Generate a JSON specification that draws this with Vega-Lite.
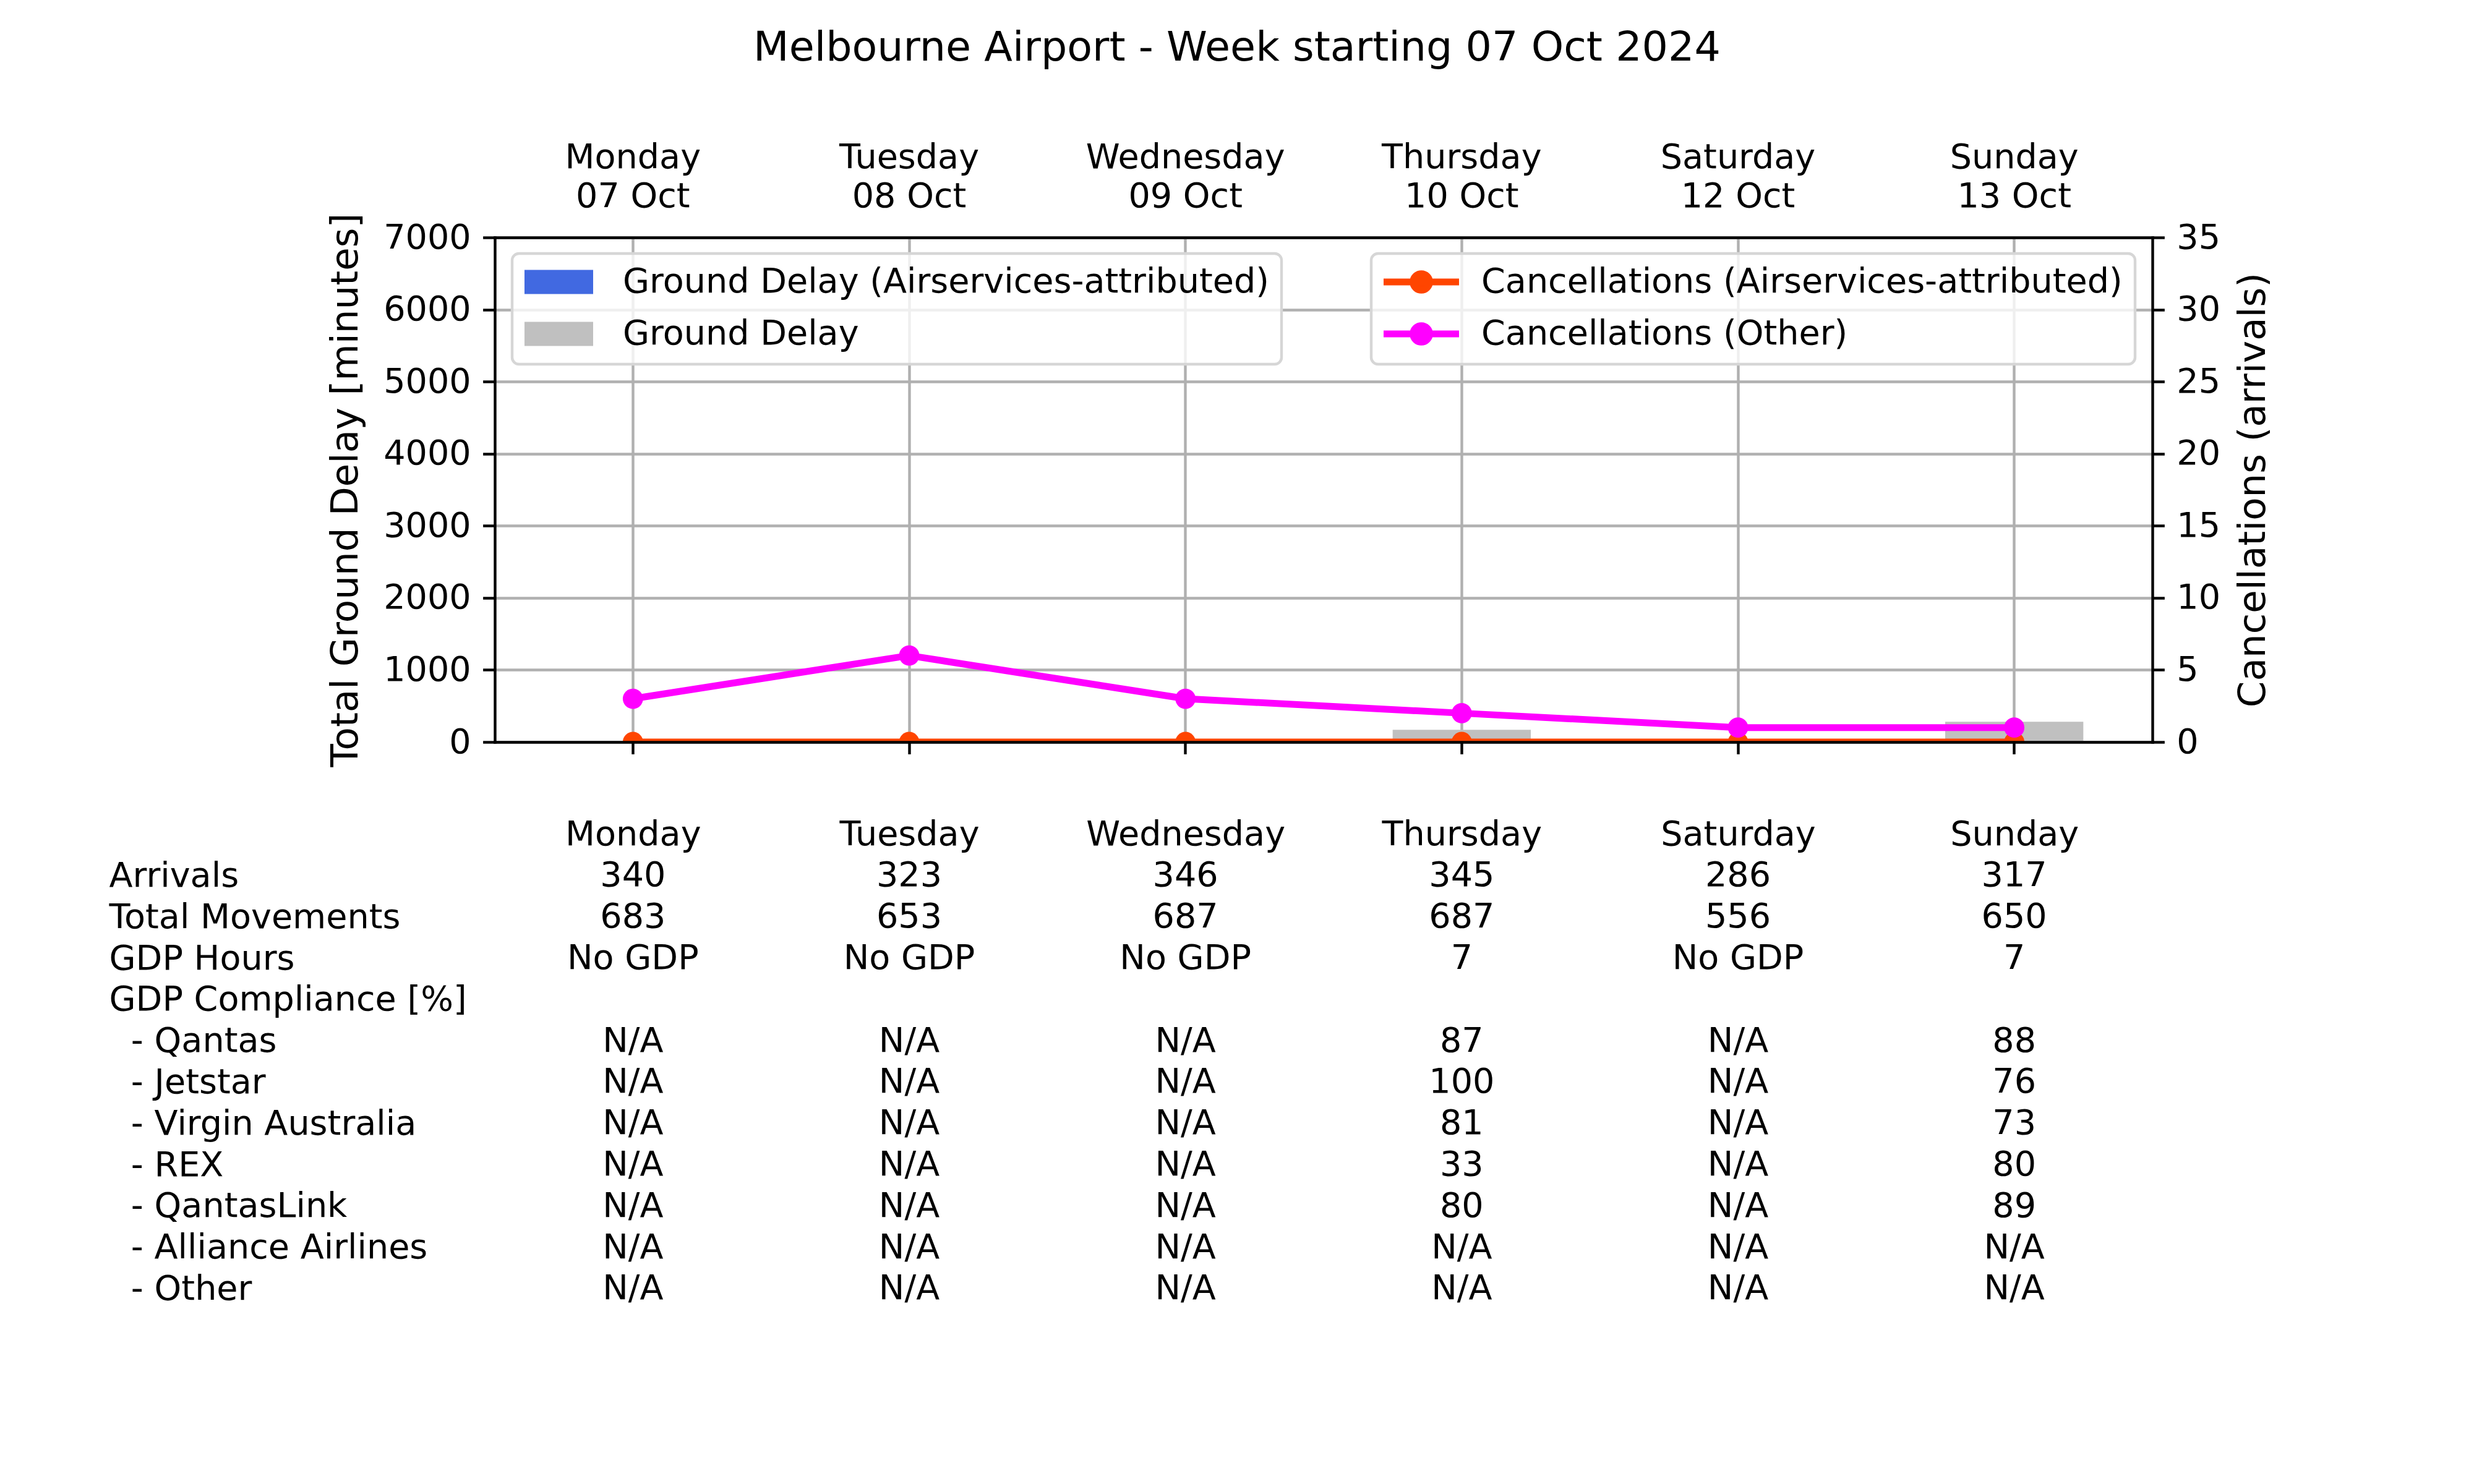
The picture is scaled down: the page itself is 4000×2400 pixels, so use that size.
{
  "$schema": "https://vega.github.io/schema/vega-lite/v6.json",
  "padding": {"left": 176, "top": 45, "right": 20, "bottom": 20},
  "background": "white",
  "title": {"text": "Melbourne Airport - Week starting 07 Oct 2024", "fontSize": 66.7, "fontWeight": "normal", "font": "DejaVu Sans", "color": "black", "anchor": "middle", "frame": "group", "dx": -140, "offset": 48, "baseline": "bottom"},
  "bounds": "flush",
  "spacing": 183,
  "resolve": {"scale": {"x": "independent", "y": "independent"}},
  "datasets": {
    "delay": [
      {"day": "Monday|07 Oct", "type": "Ground Delay", "minutes": 0},
      {"day": "Tuesday|08 Oct", "type": "Ground Delay", "minutes": 0},
      {"day": "Wednesday|09 Oct", "type": "Ground Delay", "minutes": 0},
      {"day": "Thursday|10 Oct", "type": "Ground Delay", "minutes": 170},
      {"day": "Saturday|12 Oct", "type": "Ground Delay", "minutes": 0},
      {"day": "Sunday|13 Oct", "type": "Ground Delay", "minutes": 280},
      {"day": "Monday|07 Oct", "type": "Ground Delay (Airservices-attributed)", "minutes": 0},
      {"day": "Tuesday|08 Oct", "type": "Ground Delay (Airservices-attributed)", "minutes": 0},
      {"day": "Wednesday|09 Oct", "type": "Ground Delay (Airservices-attributed)", "minutes": 0},
      {"day": "Thursday|10 Oct", "type": "Ground Delay (Airservices-attributed)", "minutes": 0},
      {"day": "Saturday|12 Oct", "type": "Ground Delay (Airservices-attributed)", "minutes": 0},
      {"day": "Sunday|13 Oct", "type": "Ground Delay (Airservices-attributed)", "minutes": 0}
    ],
    "cancel": [
      {"day": "Monday|07 Oct", "series": "Cancellations (Airservices-attributed)", "count": 0},
      {"day": "Tuesday|08 Oct", "series": "Cancellations (Airservices-attributed)", "count": 0},
      {"day": "Wednesday|09 Oct", "series": "Cancellations (Airservices-attributed)", "count": 0},
      {"day": "Thursday|10 Oct", "series": "Cancellations (Airservices-attributed)", "count": 0},
      {"day": "Saturday|12 Oct", "series": "Cancellations (Airservices-attributed)", "count": 0},
      {"day": "Sunday|13 Oct", "series": "Cancellations (Airservices-attributed)", "count": 0},
      {"day": "Monday|07 Oct", "series": "Cancellations (Other)", "count": 3},
      {"day": "Tuesday|08 Oct", "series": "Cancellations (Other)", "count": 6},
      {"day": "Wednesday|09 Oct", "series": "Cancellations (Other)", "count": 3},
      {"day": "Thursday|10 Oct", "series": "Cancellations (Other)", "count": 2},
      {"day": "Saturday|12 Oct", "series": "Cancellations (Other)", "count": 1},
      {"day": "Sunday|13 Oct", "series": "Cancellations (Other)", "count": 1}
    ],
    "table": [
      {"row": "Arrivals", "col": "Monday", "v": "340"},
      {"row": "Arrivals", "col": "Tuesday", "v": "323"},
      {"row": "Arrivals", "col": "Wednesday", "v": "346"},
      {"row": "Arrivals", "col": "Thursday", "v": "345"},
      {"row": "Arrivals", "col": "Saturday", "v": "286"},
      {"row": "Arrivals", "col": "Sunday", "v": "317"},
      {"row": "Total Movements", "col": "Monday", "v": "683"},
      {"row": "Total Movements", "col": "Tuesday", "v": "653"},
      {"row": "Total Movements", "col": "Wednesday", "v": "687"},
      {"row": "Total Movements", "col": "Thursday", "v": "687"},
      {"row": "Total Movements", "col": "Saturday", "v": "556"},
      {"row": "Total Movements", "col": "Sunday", "v": "650"},
      {"row": "GDP Hours", "col": "Monday", "v": "No GDP"},
      {"row": "GDP Hours", "col": "Tuesday", "v": "No GDP"},
      {"row": "GDP Hours", "col": "Wednesday", "v": "No GDP"},
      {"row": "GDP Hours", "col": "Thursday", "v": "7"},
      {"row": "GDP Hours", "col": "Saturday", "v": "No GDP"},
      {"row": "GDP Hours", "col": "Sunday", "v": "7"},
      {"row": "\u200b\u00a0\u00a0- Qantas", "col": "Monday", "v": "N/A"},
      {"row": "\u200b\u00a0\u00a0- Qantas", "col": "Tuesday", "v": "N/A"},
      {"row": "\u200b\u00a0\u00a0- Qantas", "col": "Wednesday", "v": "N/A"},
      {"row": "\u200b\u00a0\u00a0- Qantas", "col": "Thursday", "v": "87"},
      {"row": "\u200b\u00a0\u00a0- Qantas", "col": "Saturday", "v": "N/A"},
      {"row": "\u200b\u00a0\u00a0- Qantas", "col": "Sunday", "v": "88"},
      {"row": "\u200b\u00a0\u00a0- Jetstar", "col": "Monday", "v": "N/A"},
      {"row": "\u200b\u00a0\u00a0- Jetstar", "col": "Tuesday", "v": "N/A"},
      {"row": "\u200b\u00a0\u00a0- Jetstar", "col": "Wednesday", "v": "N/A"},
      {"row": "\u200b\u00a0\u00a0- Jetstar", "col": "Thursday", "v": "100"},
      {"row": "\u200b\u00a0\u00a0- Jetstar", "col": "Saturday", "v": "N/A"},
      {"row": "\u200b\u00a0\u00a0- Jetstar", "col": "Sunday", "v": "76"},
      {"row": "\u200b\u00a0\u00a0- Virgin Australia", "col": "Monday", "v": "N/A"},
      {"row": "\u200b\u00a0\u00a0- Virgin Australia", "col": "Tuesday", "v": "N/A"},
      {"row": "\u200b\u00a0\u00a0- Virgin Australia", "col": "Wednesday", "v": "N/A"},
      {"row": "\u200b\u00a0\u00a0- Virgin Australia", "col": "Thursday", "v": "81"},
      {"row": "\u200b\u00a0\u00a0- Virgin Australia", "col": "Saturday", "v": "N/A"},
      {"row": "\u200b\u00a0\u00a0- Virgin Australia", "col": "Sunday", "v": "73"},
      {"row": "\u200b\u00a0\u00a0- REX", "col": "Monday", "v": "N/A"},
      {"row": "\u200b\u00a0\u00a0- REX", "col": "Tuesday", "v": "N/A"},
      {"row": "\u200b\u00a0\u00a0- REX", "col": "Wednesday", "v": "N/A"},
      {"row": "\u200b\u00a0\u00a0- REX", "col": "Thursday", "v": "33"},
      {"row": "\u200b\u00a0\u00a0- REX", "col": "Saturday", "v": "N/A"},
      {"row": "\u200b\u00a0\u00a0- REX", "col": "Sunday", "v": "80"},
      {"row": "\u200b\u00a0\u00a0- QantasLink", "col": "Monday", "v": "N/A"},
      {"row": "\u200b\u00a0\u00a0- QantasLink", "col": "Tuesday", "v": "N/A"},
      {"row": "\u200b\u00a0\u00a0- QantasLink", "col": "Wednesday", "v": "N/A"},
      {"row": "\u200b\u00a0\u00a0- QantasLink", "col": "Thursday", "v": "80"},
      {"row": "\u200b\u00a0\u00a0- QantasLink", "col": "Saturday", "v": "N/A"},
      {"row": "\u200b\u00a0\u00a0- QantasLink", "col": "Sunday", "v": "89"},
      {"row": "\u200b\u00a0\u00a0- Alliance Airlines", "col": "Monday", "v": "N/A"},
      {"row": "\u200b\u00a0\u00a0- Alliance Airlines", "col": "Tuesday", "v": "N/A"},
      {"row": "\u200b\u00a0\u00a0- Alliance Airlines", "col": "Wednesday", "v": "N/A"},
      {"row": "\u200b\u00a0\u00a0- Alliance Airlines", "col": "Thursday", "v": "N/A"},
      {"row": "\u200b\u00a0\u00a0- Alliance Airlines", "col": "Saturday", "v": "N/A"},
      {"row": "\u200b\u00a0\u00a0- Alliance Airlines", "col": "Sunday", "v": "N/A"},
      {"row": "\u200b\u00a0\u00a0- Other", "col": "Monday", "v": "N/A"},
      {"row": "\u200b\u00a0\u00a0- Other", "col": "Tuesday", "v": "N/A"},
      {"row": "\u200b\u00a0\u00a0- Other", "col": "Wednesday", "v": "N/A"},
      {"row": "\u200b\u00a0\u00a0- Other", "col": "Thursday", "v": "N/A"},
      {"row": "\u200b\u00a0\u00a0- Other", "col": "Saturday", "v": "N/A"},
      {"row": "\u200b\u00a0\u00a0- Other", "col": "Sunday", "v": "N/A"}
    ]
  },
  "vconcat": [
    {
      "width": 2680,
      "height": 816,
      "layer": [
        {
          "data": {"name": "delay"},
          "mark": {"type": "bar", "width": {"band": 0.5}},
          "encoding": {
            "x": {"field": "day", "type": "nominal", "sort": null,
              "scale": {"domain": ["Monday|07 Oct", "Tuesday|08 Oct", "Wednesday|09 Oct", "Thursday|10 Oct", "Saturday|12 Oct", "Sunday|13 Oct"], "paddingInner": 0, "paddingOuter": 0},
              "axis": {"orient": "top", "title": null, "labelExpr": "split(datum.label, '|')", "labelAngle": 0, "ticks": false, "tickSize": 0, "labelPadding": 101, "labelBaseline": "bottom", "labelLineHeight": 63, "labelLimit": 3000, "grid": true, "bandPosition": 0.5, "zindex": 0}},
            "y": {"field": "minutes", "type": "quantitative", "stack": null,
              "scale": {"domain": [0, 7000], "nice": false},
              "axis": {"orient": "left", "title": "Total Ground Delay [minutes]", "format": "d", "values": [0, 1000, 2000, 3000, 4000, 5000, 6000, 7000], "grid": true, "titlePadding": 29, "zindex": 0}},
            "fill": {"field": "type", "type": "nominal",
              "scale": {"domain": ["Ground Delay (Airservices-attributed)", "Ground Delay"], "range": ["#4169E1", "#C0C0C0"]},
              "legend": {"orient": "none", "legendX": 28, "legendY": 26, "title": null, "direction": "vertical",
                "symbolType": "M-1,-0.35H1V0.35H-1Z", "symbolSize": 12321, "symbolStrokeWidth": 0, "symbolOpacity": 1,
                "clipHeight": 52, "rowPadding": 28, "padding": 20, "labelOffset": 48, "labelLimit": 3000,
                "strokeColor": "#d6d6d6", "fillColor": "rgba(255,255,255,0.8)", "cornerRadius": 11,
                "labelFontSize": 55.6, "labelBaseline": "middle",
                "encode": {"legend": {"update": {"strokeWidth": {"value": 4.4}}}}}}
          }
        },
        {
          "data": {"name": "cancel"},
          "encoding": {
            "x": {"field": "day", "type": "nominal", "sort": null,
              "axis": {"orient": "bottom", "title": null, "labels": false, "ticks": true, "grid": false, "zindex": 1}},
            "y": {"field": "count", "type": "quantitative",
              "scale": {"domain": [0, 35], "nice": false},
              "axis": {"orient": "right", "title": "Cancellations (arrivals)", "format": "d", "values": [0, 5, 10, 15, 20, 25, 30, 35], "grid": false, "titleAngle": 270, "titleBaseline": "top", "titlePadding": 24, "zindex": 1}},
            "color": {"field": "series", "type": "nominal",
              "scale": {"domain": ["Cancellations (Airservices-attributed)", "Cancellations (Other)"], "range": ["#FF4500", "#FF00FF"]},
              "legend": {"orient": "none", "legendX": 1417, "legendY": 26, "title": null, "direction": "vertical",
                "symbolType": "M-1,0H1M0.24,0A0.24,0.24,0,1,1,-0.24,0A0.24,0.24,0,1,1,0.24,0Z",
                "symbolSize": 12321, "symbolStrokeWidth": 11, "symbolOpacity": 1,
                "clipHeight": 52, "rowPadding": 28, "padding": 20, "labelOffset": 36, "labelLimit": 3000,
                "strokeColor": "#d6d6d6", "fillColor": "rgba(255,255,255,0.8)", "cornerRadius": 11,
                "labelFontSize": 55.6, "labelBaseline": "middle",
                "encode": {
                  "legend": {"update": {"strokeWidth": {"value": 4.4}}},
                  "symbols": {"update": {
                    "fill": [{"test": "datum.value === 'Cancellations (Other)'", "value": "#FF00FF"}, {"value": "#FF4500"}],
                    "stroke": [{"test": "datum.value === 'Cancellations (Other)'", "value": "#FF00FF"}, {"value": "#FF4500"}],
                    "strokeWidth": {"value": 11},
                    "strokeCap": {"value": "square"},
                    "opacity": {"value": 1}
                  }}
                }}}
          },
          "layer": [
            {"transform": [{"filter": "datum.series === 'Cancellations (Airservices-attributed)'"}],
             "mark": {"type": "line", "strokeWidth": 11, "strokeJoin": "round", "clip": true}},
            {"transform": [{"filter": "datum.series === 'Cancellations (Airservices-attributed)'"}],
             "mark": {"type": "point", "filled": true, "shape": "circle", "size": 1075, "opacity": 1, "strokeWidth": 0, "clip": true}},
            {"transform": [{"filter": "datum.series === 'Cancellations (Other)'"}],
             "mark": {"type": "line", "strokeWidth": 11, "strokeJoin": "round", "clip": true}},
            {"transform": [{"filter": "datum.series === 'Cancellations (Other)'"}],
             "mark": {"type": "point", "filled": true, "shape": "circle", "size": 1075, "opacity": 1, "strokeWidth": 0, "clip": true}}
          ]
        }
      ],
      "resolve": {"scale": {"y": "independent"}, "axis": {"x": "independent"}}
    },
    {
      "width": 2680,
      "height": 734.8,
      "data": {"name": "table"},
      "mark": {"type": "text", "fontSize": 55.6, "font": "DejaVu Sans", "color": "black", "align": "center", "baseline": "middle"},
      "encoding": {
        "x": {"field": "col", "type": "nominal",
          "scale": {"domain": ["Monday", "Tuesday", "Wednesday", "Thursday", "Saturday", "Sunday"], "paddingInner": 0, "paddingOuter": 0},
          "axis": {"orient": "top", "title": null, "domain": false, "ticks": false, "tickSize": 0, "labelPadding": 34, "labelBaseline": "middle", "labelAngle": 0, "labelLimit": 3000, "grid": false}},
        "y": {"field": "row", "type": "nominal",
          "scale": {"domain": ["Arrivals", "Total Movements", "GDP Hours", "GDP Compliance [%]", "\u200b\u00a0\u00a0- Qantas", "\u200b\u00a0\u00a0- Jetstar", "\u200b\u00a0\u00a0- Virgin Australia", "\u200b\u00a0\u00a0- REX", "\u200b\u00a0\u00a0- QantasLink", "\u200b\u00a0\u00a0- Alliance Airlines", "\u200b\u00a0\u00a0- Other"], "paddingInner": 0, "paddingOuter": 0},
          "axis": {"orient": "left", "title": null, "domain": false, "ticks": false, "tickSize": 0, "labelPadding": 624, "labelAlign": "left", "labelBaseline": "middle", "labelLimit": 3000, "grid": false}},
        "text": {"field": "v", "type": "nominal"}
      }
    }
  ],
  "config": {
    "font": "DejaVu Sans",
    "view": {"stroke": null},
    "axis": {"labelFontSize": 55.6, "titleFontSize": 61.1, "labelColor": "black", "titleColor": "black", "titleFontWeight": "normal", "labelFont": "DejaVu Sans", "titleFont": "DejaVu Sans", "domainColor": "black", "domainWidth": 4.4, "domainCap": "square", "tickColor": "black", "tickWidth": 4.4, "tickSize": 19.4, "labelPadding": 19.4, "gridColor": "#b0b0b0", "gridWidth": 4.4, "gridOpacity": 1, "labelOverlap": false},
    "legend": {"labelFontSize": 55.6, "labelColor": "black", "labelFont": "DejaVu Sans"}
  }
}
